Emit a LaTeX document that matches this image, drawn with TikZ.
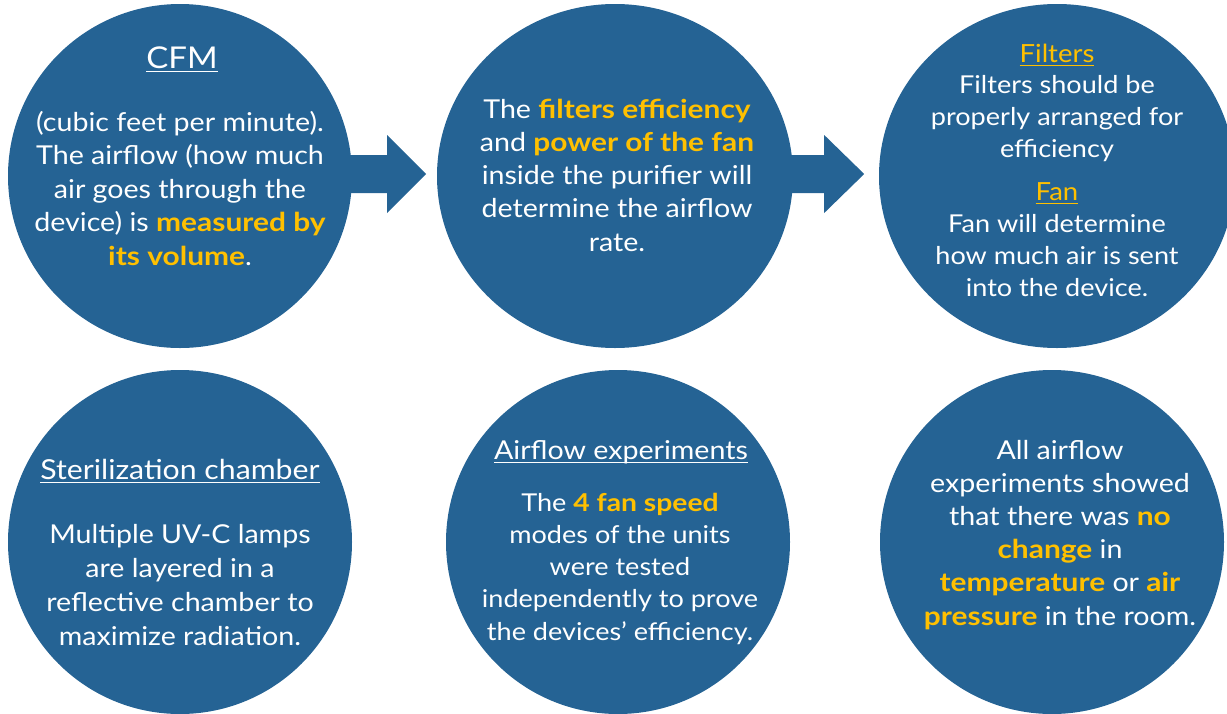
\documentclass[tikz,border=0pt]{standalone}
\usepackage{fontspec}
\setmainfont{Lato}[FakeStretch=1.1]
\newfontfamily\hlfont{Lato}[FakeStretch=1.15]
\usetikzlibrary{shapes.geometric,calc}
\definecolor{cblue}{RGB}{37,99,148}
\definecolor{cgold}{RGB}{255,192,0}
\newcommand{\ulx}[1]{{\setbox0\hbox{#1}\rlap{\rule[-4pt]{\wd0}{1.4pt}}\box0}}
\newcommand{\hl}[1]{{\hlfont\bfseries\color{cgold}#1}}
\tikzset{
  bubble/.style={ellipse, fill=cblue, draw=none, inner sep=0pt, minimum height=344pt},
  txt/.style={align=center, text=white, inner sep=0pt, anchor=base},
  body/.style={txt, font=\fontsize{26}{33.5}\selectfont},
  head/.style={txt, font=\fontsize{#1}{#1}\selectfont},
  arrowfill/.style={fill=cblue, draw=none}
}
\begin{document}
\begin{tikzpicture}[x=1pt, y=-1pt]
\useasboundingbox (0,0) rectangle (1227,713);
% circles
\node[bubble, minimum width=344pt] (c1) at (180,176) {};
\node[bubble, minimum width=356pt] (c2) at (615,176) {};
\node[bubble, minimum width=356pt] (c3) at (1057,176) {};
\node[bubble, minimum width=344pt] (c4) at (180,542) {};
\node[bubble, minimum width=344pt] (c5) at (618,542) {};
\node[bubble, minimum width=344pt] (c6) at (1052,542) {};
% arrows
\fill[arrowfill] ($(c1.east)+(-8,-21)$) -- ($(c1.east)+(35,-21)$) -- ($(c1.east)+(35,-41)$)
  -- ($(c1.east)+(74,-2)$) -- ($(c1.east)+(35,37)$) -- ($(c1.east)+(35,17)$)
  -- ($(c1.east)+(-8,17)$) -- cycle;
\fill[arrowfill] ($(c2.east)+(-8,-21)$) -- ($(c2.east)+(31,-21)$) -- ($(c2.east)+(31,-41)$)
  -- ($(c2.east)+(71,-2)$) -- ($(c2.east)+(31,37)$) -- ($(c2.east)+(31,17)$)
  -- ($(c2.east)+(-8,17)$) -- cycle;
% circle 1
\node[head=30] (h1) at (182,68) {\ulx{CFM}};
\node[body] (t1) at (180,265) {(cubic feet per minute).\\The airflow (how much\\air goes through the\\device) is \hl{measured by}\\\hl{its volume}.};
% circle 2
\node[body, font=\fontsize{26}{33.2}\selectfont] (t2) at (617,251) {The \hl{filters efficiency}\\and \hl{power of the fan}\\inside the purifier will\\determine the airflow\\rate.};
% circle 3
\node[head=25, text=cgold] (h3a) at (1057,62) {\ulx{Filters}};
\node[body, font=\fontsize{24.6}{32}\selectfont] (t3a) at (1057,157) {Filters should be\\properly arranged for\\efficiency};
\node[head=25, text=cgold] (h3b) at (1057,200) {\ulx{Fan}};
\node[body, font=\fontsize{24.6}{32}\selectfont] (t3b) at (1057,296) {Fan will determine\\how much air is sent\\into the device.};
% circle 4
\node[head=27.5] (h4) at (180,479) {\ulx{Sterilization chamber}};
\node[body, font=\fontsize{26}{33.7}\selectfont] (t4) at (180,645) {Multiple UV-C lamps\\are layered in a\\reflective chamber to\\maximize radiation.};
% circle 5
\node[head=26] (h5) at (621,459) {\ulx{Airflow experiments}};
\node[body, font=\fontsize{24.6}{32.2}\selectfont] (t5) at (620,640) {The \hl{4 fan speed}\\modes of the units\\were tested\\independently to prove\\the devices’ efficiency.};
% circle 6
\node[body, font=\fontsize{26}{33.2}\selectfont] (t6) at (1060,625) {All airflow\\experiments showed\\that there was \hl{no}\\\hl{change} in\\\hl{temperature} or \hl{air}\\\hl{pressure} in the room.};
\end{tikzpicture}
\end{document}
